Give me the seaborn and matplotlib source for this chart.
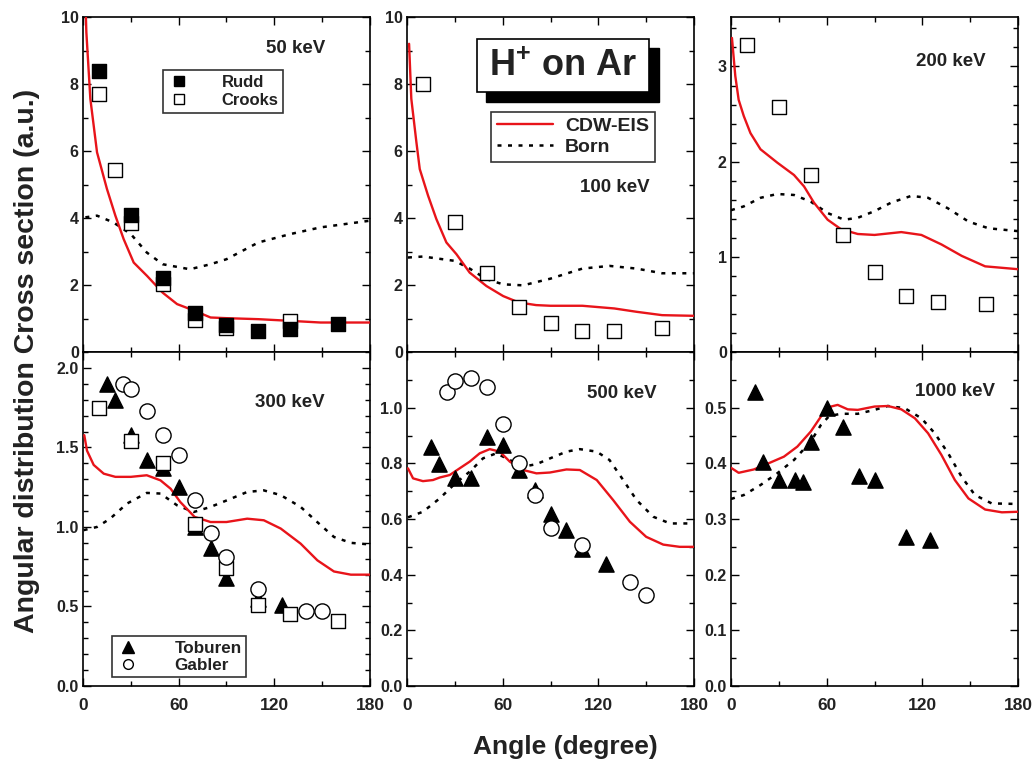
import numpy as np
import pandas as pd
import seaborn as sns
import matplotlib
matplotlib.use("Agg")
import matplotlib.pyplot as plt
from matplotlib.ticker import MultipleLocator
from matplotlib.patches import Rectangle
from matplotlib.lines import Line2D
from matplotlib import font_manager

# ---------------- data ----------------
# 50 keV
rudd50_x = [10, 30, 50, 70, 90, 110, 130, 160]
rudd50_y = [8.38, 4.09, 2.20, 1.16, 0.80, 0.63, 0.68, 0.83]
crooks50_x = [10, 20, 30, 50, 70, 90, 130]
crooks50_y = [7.71, 5.44, 3.85, 2.04, 0.96, 0.73, 0.93]
cdw50_x = [1.7, 2.1, 4.6, 8.8, 15, 20.3, 25.5, 31.8, 40.2, 50, 59, 70, 80, 90, 110, 130, 149, 180]
cdw50_y = [10.2, 9.55, 7.56, 5.96, 4.87, 4.07, 3.37, 2.67, 2.27, 1.77, 1.43, 1.23, 1.03, 1.01, 0.98, 0.93, 0.88, 0.88]
born50_x = [1.5, 8.8, 19, 30, 40, 50, 67, 80, 90, 110, 130, 149, 180]
born50_y = [4.02, 4.07, 3.87, 3.52, 2.97, 2.62, 2.47, 2.62, 2.77, 3.27, 3.52, 3.72, 3.92]

# 100 keV
crooks100_x = [10, 30, 50, 70, 90, 110, 130, 160]
crooks100_y = [7.99, 3.89, 2.35, 1.33, 0.86, 0.63, 0.63, 0.73]
cdw100_x = [1.3, 2.7, 5.9, 8, 13.2, 18.4, 24.7, 31, 39.3, 49.8, 60.3, 70, 81, 90, 110, 130, 144, 160, 180]
cdw100_y = [9.2, 7.56, 6.26, 5.46, 4.67, 3.97, 3.27, 2.92, 2.37, 1.97, 1.67, 1.48, 1.40, 1.38, 1.38, 1.30, 1.20, 1.10, 1.08]
born100_x = [0.6, 10, 30, 39.3, 50, 60.3, 72.8, 90, 110, 127, 144, 160, 180]
born100_y = [2.82, 2.85, 2.72, 2.49, 2.17, 2.02, 1.99, 2.19, 2.49, 2.57, 2.49, 2.35, 2.35]

# 200 keV
crooks200_x = [10, 30, 50, 70, 90, 110, 130, 160]
crooks200_y = [3.23, 2.57, 1.86, 1.23, 0.84, 0.59, 0.53, 0.50]
cdw200_x = [0.6, 2.7, 4.8, 8, 12.2, 18.5, 29, 39.5, 45.8, 52, 60.6, 69, 79.5, 90, 106.8, 119.4, 132, 144.7, 159.4, 180]
cdw200_y = [3.30, 2.90, 2.65, 2.48, 2.30, 2.13, 1.99, 1.86, 1.74, 1.57, 1.39, 1.29, 1.24, 1.23, 1.26, 1.23, 1.13, 1.01, 0.90, 0.87]
born200_x = [0, 8, 18.5, 29, 39.5, 50, 60.6, 71, 79.5, 90, 100.5, 113, 123.6, 136, 149, 161.5, 180]
born200_y = [1.49, 1.53, 1.62, 1.66, 1.65, 1.58, 1.46, 1.39, 1.41, 1.48, 1.57, 1.64, 1.62, 1.51, 1.37, 1.30, 1.27]

# 300 keV
toburen300_x = [15, 20, 30, 40, 50, 60, 70, 80, 90, 110, 125]
toburen300_y = [1.90, 1.80, 1.58, 1.42, 1.37, 1.25, 1.00, 0.87, 0.68, 0.55, 0.51]
gabler300_x = [25, 30, 40, 50, 60, 70, 80, 90, 110, 140, 150]
gabler300_y = [1.90, 1.87, 1.73, 1.58, 1.45, 1.17, 0.96, 0.81, 0.61, 0.47, 0.47]
crooks300_x = [10, 30, 50, 70, 90, 110, 130, 160]
crooks300_y = [1.75, 1.54, 1.40, 1.02, 0.74, 0.51, 0.455, 0.41]
cdw300_x = [0.8, 2.5, 6.7, 13, 20.3, 30, 40, 48.6, 55, 61, 70, 80, 90, 103, 113.4, 124, 136.5, 147, 157.4, 168, 180]
cdw300_y = [1.577, 1.48, 1.39, 1.335, 1.315, 1.315, 1.325, 1.293, 1.24, 1.157, 1.063, 1.031, 1.031, 1.052, 1.042, 0.99, 0.895, 0.79, 0.72, 0.70, 0.70]
born300_x = [0.4, 8.8, 17, 27.6, 40, 48.6, 59, 69.5, 80, 90.4, 103, 113.4, 124, 136.5, 147, 157.4, 168, 180]
born300_y = [0.98, 1.0, 1.052, 1.147, 1.214, 1.21, 1.136, 1.094, 1.126, 1.168, 1.22, 1.23, 1.20, 1.126, 1.03, 0.937, 0.90, 0.89]

# 500 keV
gabler500_x = [25, 30, 40, 50, 60, 70, 80, 90, 110, 140, 150]
gabler500_y = [1.058, 1.097, 1.108, 1.076, 0.941, 0.80, 0.688, 0.566, 0.506, 0.374, 0.326]
toburen500_x = [15, 20, 30, 40, 50, 60, 70, 80, 90, 100, 110, 125]
toburen500_y = [0.857, 0.797, 0.746, 0.746, 0.896, 0.866, 0.776, 0.704, 0.617, 0.56, 0.494, 0.44]
cdw500_x = [0.6, 3.8, 10, 16.3, 20.5, 26.8, 33, 39.3, 45.6, 51.9, 58.2, 64.5, 72.8, 81.2, 89.6, 100, 108.4, 119, 129.3, 139.8, 150, 160.7, 171, 180]
cdw500_y = [0.782, 0.746, 0.736, 0.740, 0.749, 0.758, 0.782, 0.806, 0.836, 0.851, 0.842, 0.806, 0.776, 0.764, 0.767, 0.778, 0.776, 0.740, 0.668, 0.590, 0.536, 0.508, 0.50, 0.50]
born500_x = [0.6, 10, 20.5, 30.3, 39.3, 47.7, 56, 64.5, 72.8, 81.2, 89.8, 100, 108.4, 119, 127, 135.6, 144, 154.5, 165, 180]
born500_y = [0.606, 0.626, 0.674, 0.728, 0.770, 0.818, 0.836, 0.812, 0.788, 0.797, 0.818, 0.842, 0.851, 0.842, 0.812, 0.740, 0.668, 0.608, 0.584, 0.584]

# 1000 keV
toburen1000_x = [15, 20, 30, 40, 45, 50, 60, 70, 80, 90, 110, 125]
toburen1000_y = [0.528, 0.402, 0.370, 0.370, 0.367, 0.438, 0.499, 0.466, 0.377, 0.370, 0.268, 0.262]
cdw1000_x = [0, 4.8, 14.3, 22.7, 33.2, 41.6, 50, 56.4, 62.7, 66.9, 73.2, 79.5, 90, 98.4, 106.8, 115.3, 123.6, 132, 140.4, 148.9, 159.4, 169.9, 180]
cdw1000_y = [0.392, 0.383, 0.389, 0.399, 0.412, 0.430, 0.457, 0.484, 0.502, 0.505, 0.497, 0.496, 0.502, 0.503, 0.497, 0.481, 0.454, 0.415, 0.370, 0.337, 0.317, 0.312, 0.313]
born1000_x = [0, 8, 18.5, 29, 39.5, 50, 56.4, 61.6, 69, 79.5, 90, 98.4, 109, 119.4, 127.8, 136.2, 144.6, 153, 163.5, 180]
born1000_y = [0.336, 0.343, 0.361, 0.382, 0.406, 0.439, 0.469, 0.485, 0.489, 0.489, 0.496, 0.503, 0.499, 0.481, 0.454, 0.418, 0.376, 0.343, 0.328, 0.327]

x_ticks = [0, 60, 120, 180]
y_ticks = [[0, 2, 4, 6, 8, 10], [0, 2, 4, 6, 8, 10], [0, 1, 2, 3],
           [0.0, 0.5, 1.0, 1.5, 2.0], [0.0, 0.2, 0.4, 0.6, 0.8, 1.0],
           [0.0, 0.1, 0.2, 0.3, 0.4, 0.5]]
energy_labels = ["50 keV", "100 keV", "200 keV", "300 keV", "500 keV", "1000 keV"]

# ---------------- style ----------------
sns.set_style("ticks")
plt.rcParams["font.family"] = ["Liberation Sans", "DejaVu Sans"]
plt.rcParams["font.weight"] = "bold"
plt.rcParams["mathtext.fontset"] = "custom"
plt.rcParams["mathtext.rm"] = "Liberation Sans:bold"
plt.rcParams["mathtext.bf"] = "Liberation Sans:bold"

names = {f.name for f in font_manager.fontManager.ttflist}
narrow = "Liberation Sans Narrow" if "Liberation Sans Narrow" in names else "Liberation Sans"

TXT = "#222222"
RED = "#e8141a"

fig = plt.figure(figsize=(10.32, 7.64), dpi=100)
lefts = [83 / 1032, 407 / 1032, 731 / 1032]
w = 287 / 1032
top_b, top_h = 1 - 352 / 764, 335 / 764
bot_b, bot_h = 1 - 686 / 764, 334 / 764

axes = []
for r, (b, h) in enumerate([(top_b, top_h), (bot_b, bot_h)]):
    for c in range(3):
        axes.append(fig.add_axes([lefts[c], b, w, h]))

ylims = [(0, 10), (0, 10), (0, 3.52), (0, 2.1), (0, 1.2), (0, 0.6)]
ymin = [1, 1, 0.2, 0.1, 0.1, 0.05]
yfmt = ["{:.0f}", "{:.0f}", "{:.0f}", "{:.1f}", "{:.1f}", "{:.1f}"]

cdw = [(cdw50_x, cdw50_y), (cdw100_x, cdw100_y), (cdw200_x, cdw200_y),
       (cdw300_x, cdw300_y), (cdw500_x, cdw500_y), (cdw1000_x, cdw1000_y)]
born = [(born50_x, born50_y), (born100_x, born100_y), (born200_x, born200_y),
        (born300_x, born300_y), (born500_x, born500_y), (born1000_x, born1000_y)]

MS = 95
dots = (0, (1.6, 2.6))

for i, ax in enumerate(axes):
    bx, by = born[i]
    sns.lineplot(x=bx, y=by, ax=ax, color="black", linewidth=1.8, linestyle=dots, zorder=2)
    cx, cy = cdw[i]
    sns.lineplot(x=cx, y=cy, ax=ax, color=RED, linewidth=1.7, zorder=3)

def sq_open(ax, x, y):
    sns.scatterplot(x=x, y=y, ax=ax, marker="s", s=MS, facecolor="white",
                    edgecolor="black", linewidth=1.0, zorder=5)

def sq_fill(ax, x, y):
    sns.scatterplot(x=x, y=y, ax=ax, marker="s", s=MS, color="black",
                    edgecolor="black", linewidth=1.0, zorder=6)

def tri(ax, x, y):
    sns.scatterplot(x=x, y=y, ax=ax, marker="^", s=120, color="black",
                    edgecolor="black", linewidth=1.0, zorder=4)

def circ(ax, x, y):
    sns.scatterplot(x=x, y=y, ax=ax, marker="o", s=120, facecolor="white",
                    edgecolor="black", linewidth=1.0, zorder=6)

sq_open(axes[0], crooks50_x, crooks50_y)
sq_fill(axes[0], rudd50_x, rudd50_y)
sq_open(axes[1], crooks100_x, crooks100_y)
sq_open(axes[2], crooks200_x, crooks200_y)
tri(axes[3], toburen300_x, toburen300_y)
sq_open(axes[3], crooks300_x, crooks300_y)
circ(axes[3], gabler300_x, gabler300_y)
tri(axes[4], toburen500_x, toburen500_y)
circ(axes[4], gabler500_x, gabler500_y)
tri(axes[5], toburen1000_x, toburen1000_y)

label_pos = [(0.742, 0.907), (0.725, 0.49), (0.766, 0.866),
             (0.72, 0.85), (0.749, 0.877), (0.78, 0.883)]

for i, ax in enumerate(axes):
    ax.set_xlim(0, 180)
    ax.set_ylim(*ylims[i])
    ax.xaxis.set_major_locator(MultipleLocator(60))
    ax.xaxis.set_minor_locator(MultipleLocator(30))
    ax.set_yticks(y_ticks[i])
    ax.set_yticklabels([yfmt[i].format(v) for v in y_ticks[i]], fontweight="bold")
    ax.yaxis.set_minor_locator(MultipleLocator(ymin[i]))
    ax.tick_params(which="both", direction="in", top=True, right=True,
                   width=1.0, colors="black", labelcolor=TXT, labelsize=11.5)
    ax.tick_params(which="major", length=6)
    ax.tick_params(which="minor", length=3.5)
    ax.tick_params(axis="y", pad=3)
    for s in ax.spines.values():
        s.set_linewidth(1.2)
        s.set_color("black")
    ax.set_xlabel("")
    ax.set_ylabel("")
    if i < 3:
        ax.set_xticklabels([])
    else:
        ax.set_xticks(x_ticks)
        ax.set_xticklabels([str(t) for t in x_ticks], fontfamily=narrow,
                           fontsize=12.5, fontweight="bold")
        ax.tick_params(axis="x", pad=9)
    ax.text(label_pos[i][0], label_pos[i][1], energy_labels[i], transform=ax.transAxes,
            ha="center", va="center", fontsize=13.5, fontweight="bold", color=TXT, zorder=10)
    if ax.get_legend() is not None:
        ax.get_legend().remove()

# legend 50 keV
h1 = [Line2D([], [], marker="s", linestyle="none", markersize=7, markerfacecolor="black",
             markeredgecolor="black"),
      Line2D([], [], marker="s", linestyle="none", markersize=7, markerfacecolor="white",
             markeredgecolor="black")]
leg = axes[0].legend(h1, ["Rudd", "Crooks"], loc="upper left", bbox_to_anchor=(0.279, 0.842),
                     frameon=True, fancybox=False, edgecolor="black",
                     handlelength=1.3, handletextpad=1.9, borderpad=0.3, labelspacing=0.2,
                     borderaxespad=0, prop={"weight": "bold", "size": 12})
leg.get_frame().set_linewidth(1.2)
for t in leg.get_texts():
    t.set_color(TXT)

# legend 100 keV
h2 = [Line2D([], [], color=RED, linewidth=1.7),
      Line2D([], [], color="black", linewidth=1.8, linestyle=dots)]
leg2 = axes[1].legend(h2, ["CDW-EIS", "Born"], loc="upper left", bbox_to_anchor=(0.293, 0.717),
                      frameon=True, fancybox=False, edgecolor="black",
                      handlelength=2.9, handletextpad=0.6, borderpad=0.3, labelspacing=0.15,
                      borderaxespad=0, prop={"weight": "bold", "size": 14})
leg2.get_frame().set_linewidth(1.2)
for t in leg2.get_texts():
    t.set_color(TXT)

# legend 300 keV
h3 = [Line2D([], [], marker="^", linestyle="none", markersize=8, markerfacecolor="black",
             markeredgecolor="black"),
      Line2D([], [], marker="o", linestyle="none", markersize=7, markerfacecolor="white",
             markeredgecolor="black")]
leg3 = axes[3].legend(h3, ["Toburen", "Gabler"], loc="lower left", bbox_to_anchor=(0.101, 0.027),
                      frameon=True, fancybox=False, edgecolor="black",
                      handlelength=1.4, handletextpad=2.0, borderpad=0.25, labelspacing=0.12,
                      borderaxespad=0, prop={"weight": "bold", "size": 12.3})
leg3.get_frame().set_linewidth(1.2)
for t in leg3.get_texts():
    t.set_color(TXT)

# H+ on Ar box with shadow
ax = axes[1]
ax.add_patch(Rectangle((0.275, 0.746), 0.603, 0.161, transform=ax.transAxes,
                       facecolor="black", edgecolor="black", zorder=8))
ax.add_patch(Rectangle((0.244, 0.776), 0.599, 0.158, transform=ax.transAxes,
                       facecolor="white", edgecolor="black", linewidth=1.2, zorder=9))
ax.text(0.543, 0.853, r"H$^{+}$ on Ar", transform=ax.transAxes, ha="center", va="center",
        fontsize=26, fontweight="bold", color=TXT, zorder=10)

fig.text(0.026, 0.527, "Angular distribution Cross section (a.u.)", rotation=90,
         ha="center", va="center", fontsize=20.5, fontweight="bold", color=TXT)
fig.text(0.548, 0.022, "Angle (degree)", ha="center", va="center", fontsize=19,
         fontweight="bold", color=TXT, fontfamily=narrow)

fig.savefig("out.png", dpi=100)
